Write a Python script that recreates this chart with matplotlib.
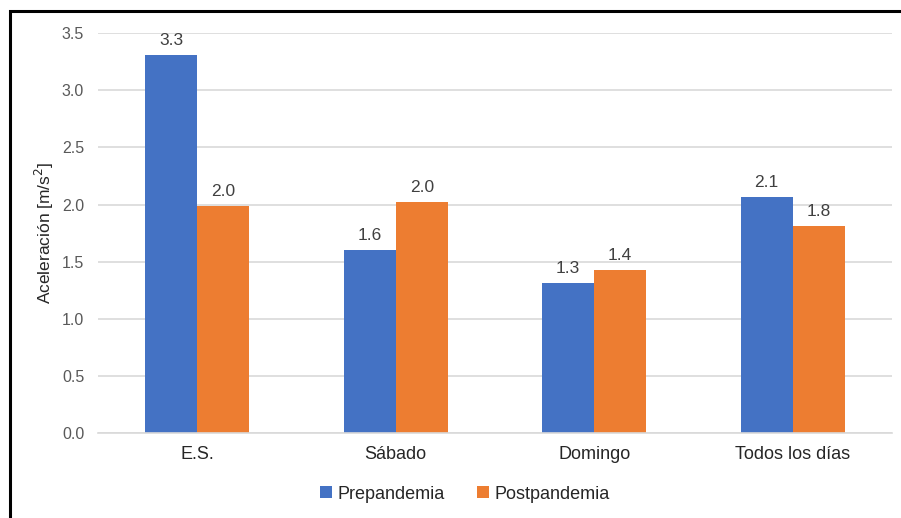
import numpy as np
import matplotlib.pyplot as plt
from matplotlib.patches import Rectangle

plt.rcParams['font.family'] = ['Liberation Sans', 'DejaVu Sans']

# categorías y valores medios de aceleración
categorias = ['E.S.', 'Sábado', 'Domingo', 'Todos los días']
prepandemia = [3.31, 1.60, 1.31, 2.07]
postpandemia = [1.99, 2.02, 1.43, 1.81]

azul = '#4472C4'
naranja = '#ED7D31'
gris = '#595959'

fig = plt.figure(figsize=(9.01, 5.18), dpi=100)
ax = fig.add_axes([0.1088, 0.164, 0.881, 0.772])

x = np.arange(len(categorias))
ancho = 0.262
b1 = ax.bar(x - ancho / 2, prepandemia, ancho, color=azul, label='Prepandemia')
b2 = ax.bar(x + ancho / 2, postpandemia, ancho, color=naranja, label='Postpandemia')

# etiquetas de valor sobre cada barra
for barras in (b1, b2):
    for r in barras:
        h = r.get_height()
        ax.annotate(f'{h:.1f}', (r.get_x() + r.get_width() / 2, h),
                    xytext=(0, 5), textcoords='offset points',
                    ha='center', va='bottom', fontsize=12.5, color='#404040')

ax.set_xlim(-0.5, 3.5)
ax.set_ylim(0, 3.5)
ax.set_yticks(np.arange(0, 3.51, 0.5))
ax.set_yticklabels([f'{v:.1f}' for v in np.arange(0, 3.51, 0.5)])
ax.set_xticks(x)
ax.set_xticklabels(categorias, fontsize=13, color='#262626')
ax.tick_params(axis='y', labelsize=11.5, labelcolor=gris, length=0, pad=10)
ax.tick_params(axis='x', length=0, pad=9)

ax.yaxis.grid(True, color='#D9D9D9', linewidth=1.2)
ax.set_axisbelow(True)
for s in ('top', 'right', 'left'):
    ax.spines[s].set_visible(False)
ax.spines['bottom'].set_color('#D9D9D9')
ax.spines['bottom'].set_linewidth(1.2)

ax.set_ylabel('Aceleración [m/s$^2$]', fontsize=12.5, color='#262626', labelpad=4)

ax.legend(loc='center', bbox_to_anchor=(0.462, -0.153), ncol=2,
          frameon=False, fontsize=13, handlelength=0.65, handleheight=0.65,
          handletextpad=0.3, columnspacing=1.8, labelcolor='#262626')

# marco negro alrededor del gráfico
fig.patches.append(Rectangle((10 / 901, -0.1), 1.2, 1.1 - 11 / 518,
                             transform=fig.transFigure, fill=False,
                             edgecolor='black', linewidth=2.2))

fig.savefig('out.png', dpi=100, facecolor='white')
